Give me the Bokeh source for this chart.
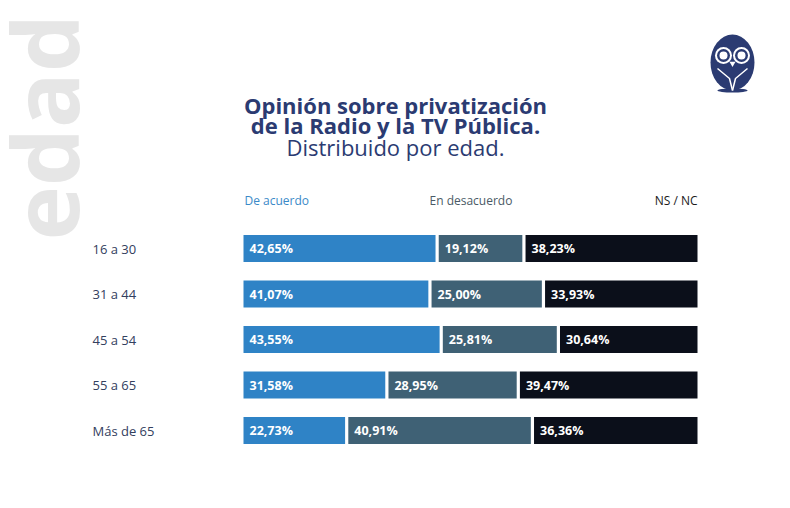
from bokeh.plotting import figure
from bokeh.models import Range1d, Label, ColumnDataSource
from bokeh.core.properties import value
from bokeh.embed import file_html
from bokeh.resources import INLINE

# ---- data ----
categories = ["16 a 30", "31 a 44", "45 a 54", "55 a 65", "Más de 65"]
de_acuerdo = [42.65, 41.07, 43.55, 31.58, 22.73]
en_desacuerdo = [19.12, 25.00, 25.81, 28.95, 40.91]
ns_nc = [38.23, 33.93, 30.64, 39.47, 36.36]
series_names = ["De acuerdo", "En desacuerdo", "NS / NC"]
colors = ["#2F83C6", "#3F6175", "#0B0F1A"]

W, H = 782, 500
X0 = 243          # pixel where 0% sits
PX_PER = 4.54     # pixels per percent
Y0 = 248          # pixel (from top) of first row centre
ROW = 45.5        # pixels per row

p = figure(width=W, height=H, output_backend="svg", toolbar_location=None,
           min_border=0, outline_line_color=None, background_fill_color="white",
           x_range=Range1d(-X0 / PX_PER, (W - X0) / PX_PER),
           y_range=Range1d((H - Y0) / ROW, -Y0 / ROW))
p.axis.visible = False
p.grid.visible = False

FONT = "Open Sans"

def sy(fy):
    return H - fy

# big vertical "edad"
p.add_layout(Label(x=43, y=sy(240), x_units="screen", y_units="screen", text="edad",
                   angle=1.5708, text_font=FONT, text_font_style="bold",
                   text_font_size="92px", text_color="#E6E6E6",
                   text_baseline="alphabetic", text_align="left"))

# title
title_col = "#2B3B72"
p.add_layout(Label(x=395, y=sy(104), x_units="screen", y_units="screen",
                   text="Opinión sobre privatización", text_font=FONT, text_font_style="bold",
                   text_font_size="22px", text_color=title_col, text_align="center",
                   text_baseline="middle"))
p.add_layout(Label(x=395, y=sy(124), x_units="screen", y_units="screen",
                   text="de la Radio y la TV Pública.", text_font=FONT, text_font_style="bold",
                   text_font_size="22px", text_color=title_col, text_align="center",
                   text_baseline="middle"))
p.add_layout(Label(x=395, y=sy(146), x_units="screen", y_units="screen",
                   text="Distribuido por edad.", text_font=FONT,
                   text_font_size="22px", text_color=title_col, text_align="center",
                   text_baseline="middle"))

# header labels
p.add_layout(Label(x=244, y=sy(200), x_units="screen", y_units="screen", text=series_names[0],
                   text_font=FONT, text_font_size="12px", text_color="#3A8AC8",
                   text_align="left", text_baseline="middle"))
p.add_layout(Label(x=429, y=sy(200), x_units="screen", y_units="screen", text=series_names[1],
                   text_font=FONT, text_font_size="12px", text_color="#4A5A66",
                   text_align="left", text_baseline="middle"))
p.add_layout(Label(x=697, y=sy(200), x_units="screen", y_units="screen", text=series_names[2],
                   text_font=FONT, text_font_size="12px", text_color="#1A1A1A",
                   text_align="right", text_baseline="middle"))

# bars
gap = 1.6 / PX_PER
rows = list(range(len(categories)))
series = [de_acuerdo, en_desacuerdo, ns_nc]
cum = [0.0] * len(categories)
for si, vals in enumerate(series):
    lefts, rights, labels = [], [], []
    for i, v in enumerate(vals):
        l = cum[i] + (gap if si > 0 else 0)
        r = cum[i] + v - (gap if si < len(series) - 1 else 0)
        lefts.append(l)
        rights.append(r)
        labels.append(f"{v:.2f}".replace(".", ",") + "%")
        cum[i] += v
    src = ColumnDataSource(dict(y=rows, left=lefts, right=rights, lab=labels))
    p.hbar(y="y", left="left", right="right", height=27 / ROW, source=src,
           fill_color=colors[si], line_color=None)
    p.text(x="left", y="y", text="lab", source=src, x_offset=6,
           text_font=value(FONT), text_font_style="bold", text_font_size="12.5px",
           text_color="white", text_baseline="middle", text_align="left")

# row labels
csrc = ColumnDataSource(dict(y=rows, lab=categories))
p.text(x=-X0 / PX_PER, y="y", text="lab", source=csrc, x_offset=92,
       text_font=value(FONT), text_font_size="13px", text_color="#33405E",
       text_baseline="middle", text_align="left")

# owl logo (decoration)
def dx(fx):
    return (fx - X0) / PX_PER

def dy(fy):
    return (fy - Y0) / ROW

navy = "#2B3B72"
p.ellipse(x=dx(732), y=dy(62), width=44, height=56, width_units="screen",
          height_units="screen", fill_color=navy, line_color=None)
p.ellipse(x=dx(732), y=dy(90), width=30, height=4, width_units="screen",
          height_units="screen", fill_color=navy, line_color=None)
p.scatter(x=[dx(723), dx(741)], y=[dy(55), dy(55)], size=17, marker="circle",
          fill_color="white", line_color=None)
p.scatter(x=[dx(723), dx(741)], y=[dy(55), dy(55)], size=13, marker="circle",
          fill_color=navy, line_color=None)
p.scatter(x=[dx(723), dx(741)], y=[dy(55), dy(55)], size=8, marker="circle",
          fill_color="white", line_color=None)
p.scatter(x=[dx(732)], y=[dy(63)], size=6, marker="inverted_triangle",
          fill_color="white", line_color=None)
p.line(x=[dx(717), dx(729), dx(732)], y=[dy(68), dy(78), dy(90)], line_color="white", line_width=1.5)
p.line(x=[dx(747), dx(735), dx(732)], y=[dy(68), dy(78), dy(90)], line_color="white", line_width=1.5)

open("out.html", "w").write(file_html(p, INLINE))
